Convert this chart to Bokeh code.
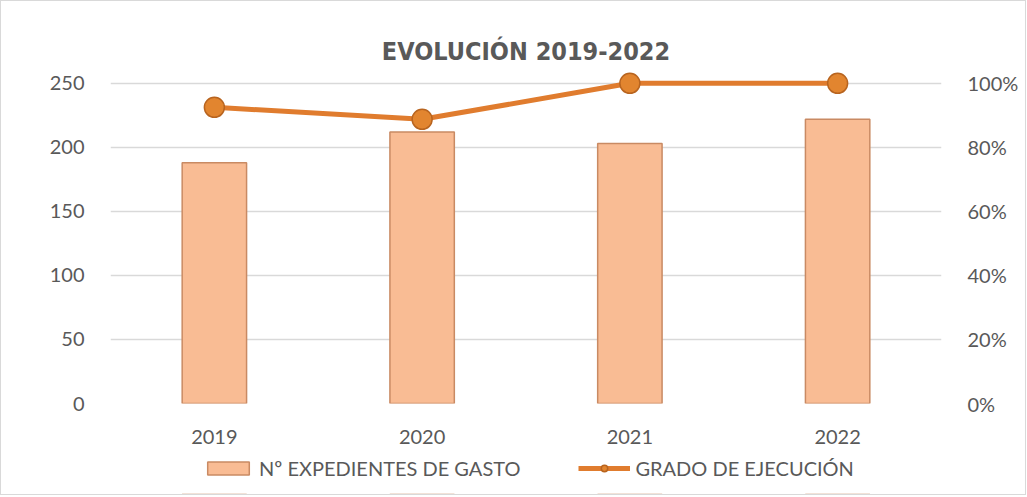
from bokeh.plotting import figure
from bokeh.layouts import column
from bokeh.models import (FactorRange, Range1d, LinearAxis, NumeralTickFormatter,
                          Legend, LegendItem, FixedTicker, ColumnDataSource)
from bokeh.embed import file_html
from bokeh.resources import INLINE

years = ["2019", "2020", "2021", "2022"]
expedientes = [188, 212, 203, 222]
grado = [0.925, 0.8875, 1.0, 1.0]
left_ticks = [0, 50, 100, 150, 200, 250]
right_ticks = [0, 0.2, 0.4, 0.6, 0.8, 1.0]
series_names = ["Nº EXPEDIENTES DE GASTO", "GRADO DE EJECUCIÓN"]

src = ColumnDataSource(dict(x=years, exp=expedientes, g=grado))

font = "Lato"
lab_col = "#595959"
bar_fill, bar_line = "#F9BC94", "#C98A63"
ln_col, mk_fill, mk_line = "#E07C2E", "#E2852F", "#B8641F"

# frame extends a little above the 250 / 100% gridline so that markers are not cut
p = figure(width=1024, height=445, x_range=FactorRange(*years, range_padding=0),
           y_range=Range1d(0, 260), output_backend="svg", toolbar_location=None,
           min_border_left=109, min_border_right=84, min_border_top=69, min_border_bottom=43)
p.extra_y_ranges = {"pct": Range1d(0, 1.04)}

p.title.text = "EVOLUCIÓN 2019-2022"
p.title.align = "center"
p.title.text_font = "DejaVu Sans Condensed"
p.title.text_font_size = "25px"
p.title.text_color = "#595959"
p.title.text_font_style = "bold"
p.title.standoff = 9

p.outline_line_color = None
p.background_fill_color = "white"
p.border_fill_color = "white"

bars = p.vbar(x="x", top="exp", width=0.31, source=src, fill_color=bar_fill,
              line_color=bar_line, line_width=1.5)
line = p.line(x="x", y="g", source=src, y_range_name="pct", line_color=ln_col,
              line_width=5)
pts = p.scatter(x="x", y="g", source=src, y_range_name="pct", size=20,
                fill_color=mk_fill, line_color=mk_line, line_width=1.5)

p.yaxis.ticker = FixedTicker(ticks=left_ticks)
p.ygrid.ticker = FixedTicker(ticks=left_ticks)
p.ygrid.grid_line_color = "#d9d9d9"
p.ygrid.grid_line_width = 1.5
p.xgrid.grid_line_color = None

ra = LinearAxis(y_range_name="pct", ticker=FixedTicker(ticks=right_ticks),
                formatter=NumeralTickFormatter(format="0%"))
p.add_layout(ra, "right")

for ax in [p.yaxis[0], ra, p.xaxis[0]]:
    ax.axis_line_color = None
    ax.major_tick_line_color = None
    ax.minor_tick_line_color = None
    ax.major_label_text_font = font
    ax.major_label_text_font_size = "20px"
    ax.major_label_text_color = lab_col
    ax.major_label_standoff = 20

# legend strip below the chart (same series, placed far out of view so only the legend shows)
q = figure(width=1024, height=48, x_range=p.x_range, y_range=Range1d(5000, 5001),
           x_axis_type=None, y_axis_type=None, output_backend="svg",
           toolbar_location=None, min_border=0)
q.outline_line_color = None
q.grid.visible = False
lb = q.vbar(x="x", top="exp", bottom="exp", width=0.31, source=src, fill_color=bar_fill,
            line_color=bar_line, line_width=1.5)
ll = q.line(x="x", y="g", source=src, line_color=ln_col, line_width=5)
lp = q.scatter(x="x", y="g", source=src, size=16, fill_color=mk_fill,
               line_color=mk_line, line_width=1.5)
legend = Legend(items=[LegendItem(label=series_names[0], renderers=[lb]),
                       LegendItem(label=series_names[1], renderers=[ll, lp])],
                orientation="horizontal", location=(92, 14),
                label_text_font=font, label_text_font_size="20px",
                label_text_color=lab_col, glyph_width=52, glyph_height=16,
                spacing=58, border_line_color=None, background_fill_alpha=0,
                margin=0, padding=4)
q.add_layout(legend)

layout = column(p, q, spacing=0)
layout.styles = {"border": "1.5px solid #d9d9d9"}

open("out.html", "w").write(file_html(layout, INLINE))
